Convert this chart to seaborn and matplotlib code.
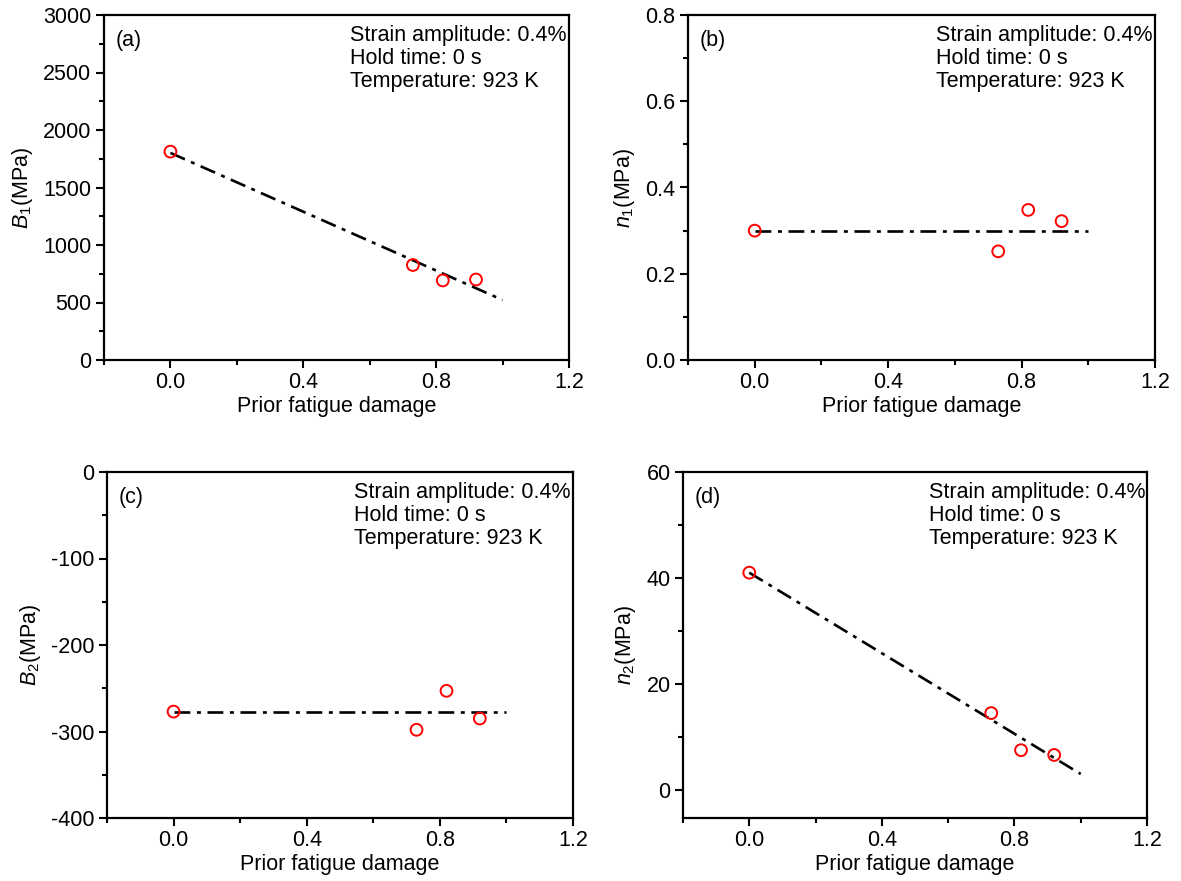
import numpy as np
import pandas as pd
import matplotlib
matplotlib.use('Agg')
import matplotlib.pyplot as plt
import seaborn as sns
from matplotlib.ticker import MultipleLocator

sns.set_theme(style='ticks')
plt.rcParams['font.family'] = ['Liberation Sans', 'DejaVu Sans']
plt.rcParams['mathtext.fontset'] = 'custom'
plt.rcParams['mathtext.rm'] = 'Liberation Sans'
plt.rcParams['mathtext.it'] = 'Liberation Sans:italic'

# ---- data ----
damage = [0.0, 0.73, 0.82, 0.92]
b1 = [1812, 826, 692, 700]
n1 = [0.300, 0.252, 0.348, 0.322]
b2 = [-277, -298, -253, -285]
n2 = [41.0, 14.5, 7.5, 6.6]

fit_x = [0.0, 1.0]
b1_fit = [1801, 522]
n1_fit = [0.30, 0.30]
b2_fit = [-277, -277]
n2_fit = [41.0, 3.0]

panel_labels = ['(a)', '(b)', '(c)', '(d)']
ylabels = [r'$\mathit{B}_1$(MPa)', r'$\mathit{n}_1$(MPa)',
           r'$\mathit{B}_2$(MPa)', r'$\mathit{n}_2$(MPa)']
ylims = [(0, 3000), (0, 0.8), (-400, 0), (-5.3, 60)]
ymajor = [500, 0.2, 100, 20]
yminor = [250, 0.1, 50, 10]
yfmt = ['{:.0f}', '{:.1f}', '{:.0f}', '{:.0f}']
note = 'Strain amplitude: 0.4%\nHold time: 0 s\nTemperature: 923 K'

FS = 15.5
W, H = 1181, 881
fig = plt.figure(figsize=(W / 100, H / 100), dpi=100)
boxes = [(104, 15, 569, 360), (688, 15, 1155, 360),
         (107, 472, 573, 818), (683, 472, 1147, 818)]

series = [(b1, b1_fit), (n1, n1_fit), (b2, b2_fit), (n2, n2_fit)]

for i, (l, t, r, b) in enumerate(boxes):
    ax = fig.add_axes([l / W, 1 - b / H, (r - l) / W, (b - t) / H])
    ys, fy = series[i]
    dfit = pd.DataFrame({'x': fit_x, 'y': fy})
    sns.lineplot(data=dfit, x='x', y='y', ax=ax, color='black', lw=1.9,
                 dashes=False, zorder=2)
    ax.lines[-1].set_dashes([6, 2.5, 1.5, 2.5])
    dpts = pd.DataFrame({'x': damage, 'y': ys})
    sns.scatterplot(data=dpts, x='x', y='y', ax=ax, s=72, marker='o',
                    facecolor='none', edgecolor='red', linewidth=1.4, zorder=3)
    ax.set_xlim(-0.2, 1.2)
    ax.set_ylim(*ylims[i])
    ax.xaxis.set_minor_locator(MultipleLocator(0.2))
    ax.yaxis.set_major_locator(MultipleLocator(ymajor[i]))
    ax.yaxis.set_minor_locator(MultipleLocator(yminor[i]))
    ax.set_xticks([0.0, 0.4, 0.8, 1.2])
    ax.set_xticklabels(['0.0', '0.4', '0.8', '1.2'])
    yt = [v for v in ax.get_yticks() if ylims[i][0] - 1e-9 <= v <= ylims[i][1] + 1e-9]
    ax.set_yticks(yt)
    ax.set_yticklabels([yfmt[i].format(v) for v in yt])
    ax.set_ylim(*ylims[i])
    ax.tick_params(which='major', direction='out', length=6, width=1.5,
                   labelsize=FS, color='black', labelcolor='black', pad=3)
    ax.tick_params(which='minor', direction='out', length=3.5, width=1.5,
                   color='black')
    ax.tick_params(axis='x', which='both', bottom=True)
    ax.tick_params(axis='y', which='both', left=True)
    for s in ax.spines.values():
        s.set_linewidth(1.6)
        s.set_color('black')
    ax.set_xlabel('Prior fatigue damage', fontsize=FS, color='black', labelpad=2)
    ax.set_ylabel(ylabels[i], fontsize=FS, color='black', labelpad=6)
    ax.text(0.024, 0.925, panel_labels[i], transform=ax.transAxes,
            fontsize=FS, va='center', ha='left', color='black')
    ax.text(0.53, 0.972, note, transform=ax.transAxes, fontsize=FS,
            va='top', ha='left', color='black', linespacing=1.15)
    ax.grid(False)

fig.savefig('out.png', dpi=100)
